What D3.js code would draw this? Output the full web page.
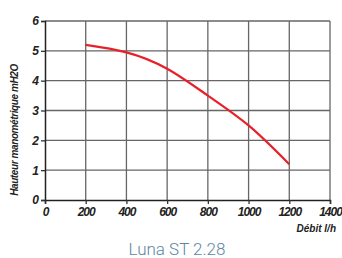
<!DOCTYPE html>
<html lang="fr">
<head>
<meta charset="utf-8">
<title>Luna ST 2.28</title>
<script src="https://d3js.org/d3.v7.min.js"></script>
<style>
  body { margin: 0; background: #fff; }
  .tick text, .lbl { font-family: "Liberation Sans", Arial, sans-serif; font-weight: bold; font-style: italic; fill: #222; }
  .tick text { letter-spacing: -1px; }
  .grid line { stroke: #666; stroke-width: 1.3px; }
  .curve { fill: none; stroke: #e8202a; stroke-width: 2.2px; }
</style>
</head>
<body>
<script>
var w = 342, h = 258;
var margin = {top: 21, right: 12, bottom: 58, left: 45};
var innerWidth = 330 - margin.left;
var innerHeight = 200 - margin.top;

// data
var debit = [200, 400, 600, 800, 1000, 1200];
var hauteur = [5.2, 4.95, 4.4, 3.5, 2.5, 1.2];
var xTicks = [0, 200, 400, 600, 800, 1000, 1200, 1400];
var yTicks = [0, 1, 2, 3, 4, 5, 6];

var svg = d3.select("body").append("svg")
  .attr("width", w).attr("height", h);

var g = svg.append("g")
  .attr("transform", `translate(${margin.left},${margin.top})`);

var xScale = d3.scaleLinear().domain([0, 1400]).range([0, innerWidth]);
var yScale = d3.scaleLinear().domain([0, 6]).range([innerHeight, 0]);

// grid
var grid = g.append("g").attr("class", "grid");
grid.selectAll(".vx").data(xTicks.slice(1)).enter().append("line")
  .attr("x1", d => xScale(d)).attr("x2", d => xScale(d))
  .attr("y1", 0).attr("y2", innerHeight);
grid.selectAll(".hy").data(yTicks.slice(1)).enter().append("line")
  .attr("x1", 0).attr("x2", innerWidth)
  .attr("y1", d => yScale(d)).attr("y2", d => yScale(d));

// axes
var xAxis = d3.axisBottom(xScale).tickValues(xTicks).tickFormat(d => d).tickSize(4).tickPadding(2);
var yAxis = d3.axisLeft(yScale).tickValues(yTicks).tickFormat(d => d).tickSize(4).tickPadding(3);

var gx = g.append("g").attr("transform", `translate(0,${innerHeight})`).call(xAxis);
var gy = g.append("g").call(yAxis);
[gx, gy].forEach(a => {
  a.select(".domain").attr("stroke", "#222").attr("stroke-width", 1.5);
  a.selectAll(".tick line").attr("stroke", "#333").attr("stroke-width", 1.3);
  a.selectAll(".tick text").style("font-size", "12px");
});
gx.selectAll(".tick text").attr("dy", "0.85em");

// curve
var pts = debit.map((d, i) => [d, hauteur[i]]);
var lineGen = d3.line()
  .x(d => xScale(d[0]))
  .y(d => yScale(d[1]))
  .curve(d3.curveNatural);

g.append("path").datum(pts).attr("class", "curve").attr("d", lineGen);

// labels
svg.append("text").attr("class", "lbl")
  .attr("transform", "translate(18,130) rotate(-90)")
  .attr("text-anchor", "middle")
  .style("font-size", "10px")
  .style("letter-spacing", "-0.4px")
  .text("Hauteur manométrique mH2O");

svg.append("text").attr("class", "lbl")
  .attr("x", 336).attr("y", 232)
  .attr("text-anchor", "end")
  .style("font-size", "10px")
  .text("Débit l/h");

svg.append("text")
  .attr("x", 177).attr("y", 255)
  .attr("text-anchor", "middle")
  .style("font-family", "Roboto, sans-serif")
  .style("font-weight", "300")
  .style("font-size", "17px")
  .attr("fill", "#5b86a6")
  .text("Luna ST 2.28");
</script>
</body>
</html>
